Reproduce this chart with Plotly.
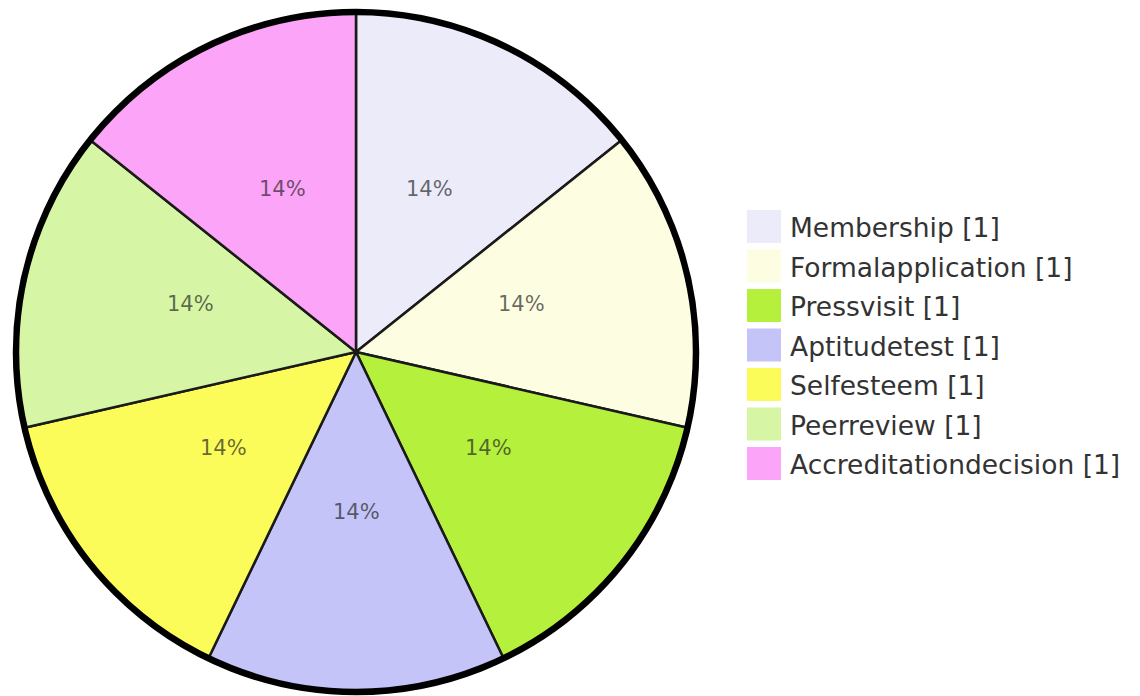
import math
import plotly.graph_objects as go

W, H = 1140, 696
OFF = 8  # default page body margin in the browser

categories = ["Membership", "Formalapplication", "Pressvisit", "Aptitudetest",
              "Selfesteem", "Peerreview", "Accreditationdecision"]
counts = [1, 1, 1, 1, 1, 1, 1]
colors = ["#ebebfa", "#fdfde2", "#b4f03c", "#c4c4f8", "#fbfb5a", "#d6f6a6", "#fca4f8"]


def px(x):
    return (x - OFF) / W


def py(y):
    return 1 - (y - OFF) / H


# pie geometry (screen pixels)
cx, cy, R = 356, 352, 340

x0, x1 = px(cx - R), px(cx + R)
y0, y1 = py(cy + R), py(cy - R)

fig = go.Figure()
fig.add_trace(go.Pie(
    labels=categories,
    values=counts,
    sort=False,
    direction="clockwise",
    rotation=0,
    marker=dict(colors=colors, line=dict(color="#1a1a1a", width=2.5)),
    textinfo="none",
    domain=dict(x=[x0, x1], y=[y0, y1]),
    showlegend=False,
    hoverinfo="label+value+percent",
))

shapes = [dict(type="circle", xref="paper", yref="paper",
               x0=x0, x1=x1, y0=y0, y1=y1,
               line=dict(color="black", width=6.5), layer="above")]
annotations = []

# percentage labels placed at half radius on each slice bisector
total = sum(counts)
cum = 0
for n in counts:
    mid = (cum + n / 2) / total * 2 * math.pi
    cum += n
    lx = cx + 0.5 * R * math.sin(mid)
    ly = cy - 0.5 * R * math.cos(mid) - 10
    annotations.append(dict(xref="paper", yref="paper", x=px(lx), y=py(ly),
                            xanchor="center", yanchor="middle", showarrow=False,
                            text=f"{round(100 * n / total)}%",
                            font=dict(family="DejaVu Sans", size=21,
                                      color="rgba(30,30,30,0.68)")))

# custom legend
lx0, lx1, ltop, pitch, sh = 747, 781, 210, 39.5, 33
for i, (cat, n, col) in enumerate(zip(categories, counts, colors)):
    t = ltop + i * pitch
    shapes.append(dict(type="rect", xref="paper", yref="paper",
                       x0=px(lx0), x1=px(lx1), y0=py(t + sh), y1=py(t),
                       fillcolor=col, line=dict(width=0)))
    annotations.append(dict(xref="paper", yref="paper", x=px(788), y=py(t + sh / 2 + 1),
                            xanchor="left", yanchor="middle", showarrow=False,
                            text=f"{cat} [{n}]",
                            font=dict(family="DejaVu Sans", size=26.5, color="#333333")))

fig.update_layout(
    width=W, height=H,
    margin=dict(l=0, r=0, t=0, b=0),
    paper_bgcolor="white",
    plot_bgcolor="white",
    shapes=shapes,
    annotations=annotations,
    showlegend=False,
)

fig.write_html("out.html")
